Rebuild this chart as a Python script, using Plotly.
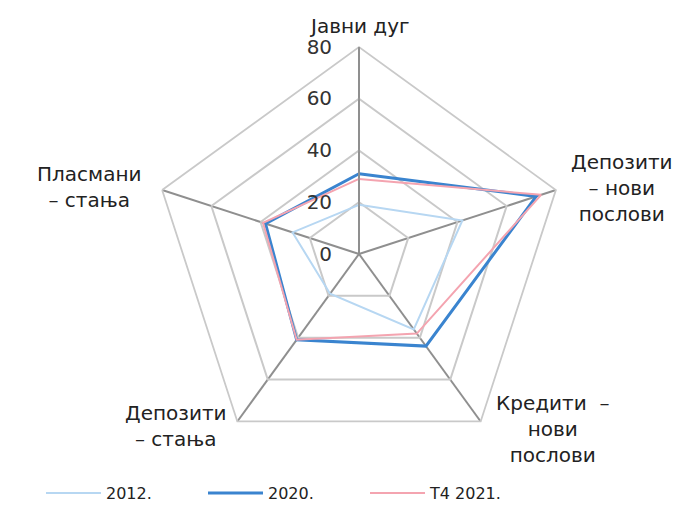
import plotly.graph_objects as go

categories = ["Јавни дуг", "Депозити – нови послови", "Кредити – нови послови",
              "Депозити – стања", "Пласмани – стања"]
label_text = ["Јавни дуг", "Депозити<br>– нови<br>послови", "Кредити  –<br>нови<br>послови",
              "Депозити<br>– стања", "Пласмани<br>– стања"]
series_names = ["2012.", "2020.", "Т4 2021."]
v2012 = [19, 42, 36, 19, 27]
v2020 = [31, 72, 44, 41, 38]
vT4 = [29, 74, 38, 41, 39]
radial_ticks = [0, 20, 40, 60, 80]

colors = ["#b7d7f2", "#3a84cf", "#f4a4b0"]
widths = [2, 3, 2]

fig = go.Figure()
for name, vals, c, w in zip(series_names, [v2012, v2020, vT4], colors, widths):
    fig.add_trace(go.Scatterpolar(
        r=vals + vals[:1], theta=categories + categories[:1], name=name,
        mode="lines", line=dict(color=c, width=w)))

W, H = 683, 528
OFF = 8  # page offset of the plot div
cx, cy, R = 359 - OFF, 254 - OFF, 207
FONT = "DejaVu Sans, Verdana, sans-serif"

# label placement (pixel centres of the category captions)
label_pos = [(359, 26), (622, 188), (552, 429), (176, 426), (89, 187)]
annotations = [dict(text=t, x=(px - OFF) / W, y=1 - (py - OFF) / H, xref="paper", yref="paper",
                    xanchor="center", yanchor="middle", align="center", showarrow=False,
                    font=dict(size=20, family=FONT, color="#222"))
               for t, (px, py) in zip(label_text, label_pos)]

fig.update_layout(
    width=W, height=H,
    margin=dict(l=0, r=0, t=0, b=0),
    paper_bgcolor="white", plot_bgcolor="white",
    font=dict(family=FONT, size=20, color="#222"),
    annotations=annotations,
    polar=dict(
        domain=dict(x=[(cx - R) / W, (cx + R) / W], y=[(H - cy - R) / H, (H - cy + R) / H]),
        gridshape="linear",
        bgcolor="white",
        radialaxis=dict(range=[0, 80], tickvals=radial_ticks, angle=90, side="counterclockwise",
                        tickangle=90,
                        showline=True, linecolor="#8f8f8f", linewidth=1.8,
                        gridcolor="#c9c9c9", gridwidth=1.8,
                        ticks="outside", ticklen=19, tickcolor="rgba(0,0,0,0)",
                        tickfont=dict(size=20, family=FONT, color="#333")),
        angularaxis=dict(rotation=90, direction="clockwise", showline=True,
                         linecolor="#c9c9c9", linewidth=1.8,
                         gridcolor="#8f8f8f", gridwidth=1.8, ticks="",
                         showticklabels=False),
    ),
    legend=dict(orientation="h", x=(40 - 7) / W, xanchor="left", y=(H - 493 + OFF) / H,
                yanchor="middle",
                entrywidth=92, entrywidthmode="pixels", itemwidth=55,
                bgcolor="rgba(0,0,0,0)",
                font=dict(size=16, family=FONT)),
)
fig.write_html("out.html")
